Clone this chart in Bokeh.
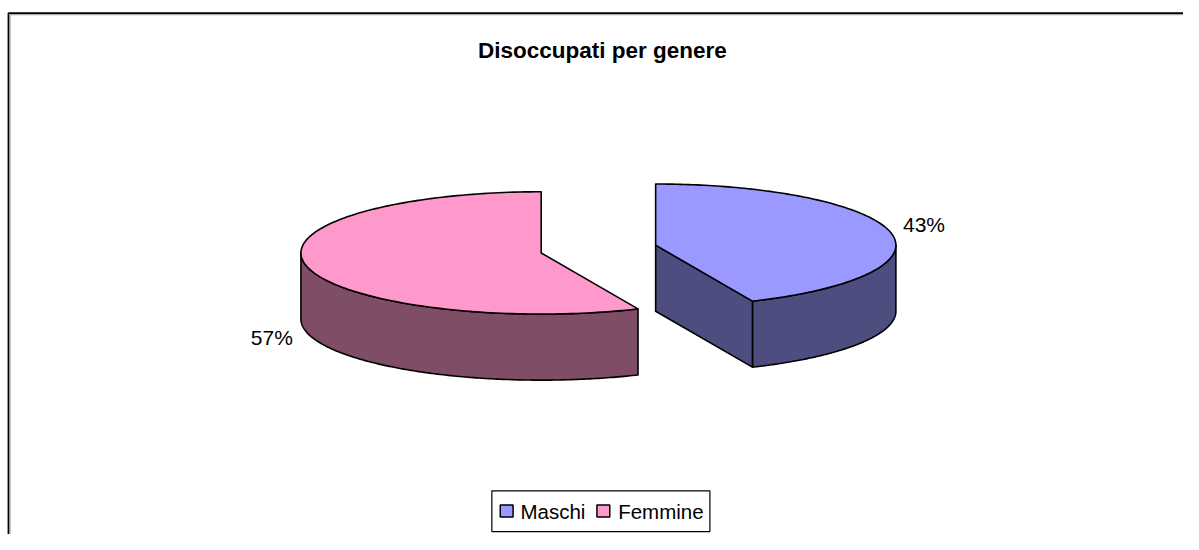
import numpy as np
from bokeh.plotting import figure
from bokeh.embed import file_html
from bokeh.resources import INLINE
from bokeh.core.properties import value
from bokeh.models import Range1d

title = "Disoccupati per genere"
categories = ["Maschi", "Femmine"]
shares = [43.4, 56.6]
labels = ["43%", "57%"]
top_colors = ["#9999FF", "#FF99CC"]
side_colors = ["#4D4D80", "#804D66"]

RW, RH = 1199, 550
FONT = value("Liberation Sans")
p = figure(width=1183, height=534, output_backend="svg", toolbar_location=None,
           x_range=Range1d(0, RW), y_range=Range1d(RH, 0),
           min_border=0, outline_line_color=None)
p.xaxis.visible = False
p.yaxis.visible = False
p.grid.visible = False
p.background_fill_color = "white"

# frame
p.line([9.5, 9.5], [15, RH], line_color="#aaaaaa", line_width=1.5)
p.line([9.5, RW], [14.5, 14.5], line_color="#aaaaaa", line_width=1.5)
p.line([8, 8, RW], [RH, 13, 13], line_color="black", line_width=1.6)

RX, RY, DEPTH = 243.5, 63, 68
OUT = "black"
LW = 1.6


def ell(cx, cy, a, b, n=160):
    t = np.radians(np.linspace(a, b, n))
    return cx + RX * np.cos(t), cy - RY * np.sin(t)


def slab(cx, cy, a, b):
    x1, y1 = ell(cx, cy, a, b)
    return list(x1) + list(x1[::-1]), list(y1) + list(y1[::-1] + DEPTH)


# Maschi: clockwise from the top of the ellipse
cx, cy = 664, 252
end = 90 - shares[0] * 3.6
x, y = slab(cx, cy, end, 0)
p.patch(x, y, fill_color=side_colors[0], line_color=OUT, line_width=LW, line_join="round")
ex, ey = ell(cx, cy, end, end, 1)
p.patch([cx, ex[0], ex[0], cx], [cy, ey[0], ey[0] + DEPTH, cy + DEPTH],
        fill_color=side_colors[0], line_color=OUT, line_width=LW, line_join="round")
x, y = ell(cx, cy, end, 90)
p.patch([cx] + list(x), [cy] + list(y), fill_color=top_colors[0], line_color=OUT,
        line_width=LW, line_join="round")

# Femmine: counter-clockwise from the top of the ellipse
cx, cy = 548, 260
end = 90 + shares[1] * 3.6
x, y = slab(cx, cy, 180, end)
p.patch(x, y, fill_color=side_colors[1], line_color=OUT, line_width=LW, line_join="round")
x, y = ell(cx, cy, 90, end)
p.patch([cx] + list(x), [cy] + list(y), fill_color=top_colors[1], line_color=OUT,
        line_width=LW, line_join="round")

# texts
p.text([610], [52], text=[title], text_font=FONT, text_font_style="bold", text_font_size="22.5px",
       text_align="center", text_baseline="middle", text_color="black")
p.text([936, 275], [231, 347], text=labels, text_font=FONT, text_font_size="21px",
       text_align="center", text_baseline="middle", text_color="black")

# legend
p.quad(left=[498], right=[719], top=[505], bottom=[547], fill_color="white",
       line_color="black", line_width=1.2)
p.quad(left=[506.5, 604.5], right=[519.5, 617.5], top=[519.5, 519.5], bottom=[532, 532],
       fill_color=top_colors, line_color="black", line_width=1.5)
p.text([527, 626], [526, 526], text=categories, text_font=FONT, text_font_size="20.5px",
       text_align="left", text_baseline="middle", text_color="black")

open("out.html", "w").write(file_html(p, INLINE))
